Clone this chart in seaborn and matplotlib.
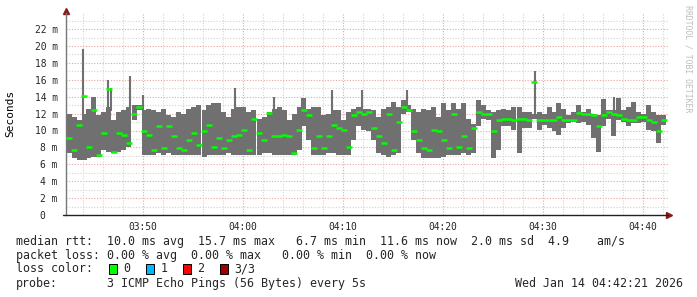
import matplotlib
matplotlib.use("Agg")
import matplotlib.pyplot as plt
from matplotlib.patches import Rectangle
from matplotlib.lines import Line2D
import seaborn as sns
import pandas as pd
import numpy as np

# ---- data (ms), one column per 30 s, starting 03:42:21 ----
start_min = 2.35          # minutes after 03:40:00 (03:42:21)
step_min = 0.5
smoke_max = [12.0, 11.6, 11.2, 12.0, 12.6, 14.0, 11.8, 12.2, 12.8, 11.2,
             12.2, 12.4, 12.8, 13.0, 13.0, 12.4, 12.5, 12.4, 12.2, 12.6,
             11.8, 11.6, 12.2, 12.0, 12.6, 12.8, 13.0, 12.4, 13.0, 13.2,
             13.2, 12.2, 11.6, 12.6, 12.8, 12.8, 12.2, 12.4, 11.4, 11.6,
             12.2, 12.6, 12.8, 12.4, 11.2, 12.0, 12.8, 13.8, 12.6, 12.8,
             12.8, 11.8, 12.0, 12.4, 12.4, 11.2, 12.2, 12.6, 12.8, 12.6,
             12.6, 12.4, 11.6, 12.6, 12.8, 13.4, 12.8, 13.6, 13.0, 12.6,
             12.2, 12.6, 12.4, 12.8, 11.6, 13.2, 12.4, 13.2, 12.6, 13.2,
             11.4, 10.8, 13.6, 13.0, 12.4, 12.2, 12.4, 12.6, 12.4, 12.8,
             12.8, 12.2, 12.2, 12.0, 12.2, 12.0, 12.8, 12.2, 13.2, 12.6,
             11.8, 12.2, 13.0, 12.2, 12.6, 12.0, 11.8, 13.7, 12.4, 12.4,
             13.8, 12.4, 12.8, 13.4, 12.2, 12.0, 13.0, 12.2, 11.8, 11.8]
smoke_min = [7.3, 6.7, 6.5, 6.5, 6.7, 6.9, 6.9, 7.7, 7.5, 7.3,
             7.5, 7.7, 8.1, 11.2, 12.4, 7.1, 7.1, 7.1, 7.3, 7.1,
             7.3, 7.1, 7.1, 7.1, 7.1, 7.1, 7.1, 6.9, 7.1, 7.1,
             7.1, 7.1, 7.3, 7.1, 7.1, 7.1, 7.1, 7.1, 7.1, 7.3,
             7.3, 7.1, 7.1, 7.1, 7.1, 7.1, 7.7, 10.5, 8.9, 7.1,
             7.1, 7.1, 7.3, 7.3, 7.1, 7.1, 7.1, 8.9, 10.5, 10.1,
             9.9, 8.9, 7.3, 7.1, 6.9, 7.1, 7.3, 12.0, 12.2, 8.9,
             7.3, 6.7, 6.7, 6.7, 6.7, 6.9, 7.1, 7.1, 7.1, 7.3,
             7.1, 7.3, 10.5, 11.4, 11.2, 6.7, 7.7, 10.5, 10.5, 10.1,
             7.3, 10.3, 10.3, 11.4, 10.1, 10.7, 10.3, 9.9, 9.5, 10.3,
             10.9, 11.0, 10.9, 11.0, 10.7, 9.1, 7.5, 10.5, 11.4, 9.3,
             11.2, 11.0, 10.5, 10.9, 10.9, 11.0, 10.1, 9.9, 8.5, 10.7]
median_rtt = [9.1, 7.7, 10.6, 14.1, 8.1, 12.4, 7.1, 9.7, 14.9, 7.5,
              9.7, 9.5, 8.5, 12.0, 12.8, 10.0, 9.5, 7.7, 10.5, 7.9,
              10.5, 9.3, 7.9, 7.7, 8.9, 9.7, 8.3, 9.9, 10.6, 8.1,
              9.1, 7.9, 8.9, 9.3, 9.5, 10.1, 7.7, 11.4, 9.7, 8.9,
              12.1, 9.3, 9.3, 9.5, 9.3, 7.3, 10.1, 12.4, 11.8, 7.9,
              9.3, 7.9, 9.3, 10.7, 10.3, 10.1, 8.1, 11.8, 12.2, 12.0,
              12.2, 10.3, 9.3, 8.5, 12.0, 7.7, 11.0, 12.8, 12.4, 9.9,
              8.9, 7.9, 7.7, 10.1, 9.9, 8.9, 7.9, 12.0, 8.1, 9.3,
              7.9, 10.3, 12.2, 12.0, 12.0, 9.9, 11.2, 11.4, 11.4, 11.2,
              11.4, 11.4, 11.2, 15.7, 11.2, 11.3, 11.2, 11.2, 11.6, 11.2,
              11.2, 11.2, 12.1, 12.0, 12.0, 11.8, 10.5, 11.8, 12.2, 12.0,
              11.8, 11.4, 11.2, 11.2, 11.6, 11.6, 11.2, 11.0, 9.9, 11.3]
# single-sample spikes of the ping spread (minutes after 03:40, top in ms)
spike_time = [4.0, 6.5, 6.8, 8.7, 10.0, 19.2, 23.1, 28.9, 31.9, 36.4, 49.2, 57.1]
spike_top = [19.6, 16.0, 15.0, 16.4, 14.2, 15.0, 14.0, 14.8, 14.8, 14.8, 17.0, 14.0]

y_ticks = [0, 2, 4, 6, 8, 10, 12, 14, 16, 18, 20, 22]
y_tick_labels = ["0  ", "2 m", "4 m", "6 m", "8 m", "10 m", "12 m", "14 m",
                 "16 m", "18 m", "20 m", "22 m"]
x_ticks = [10, 20, 30, 40, 50, 60]            # minutes after 03:40
x_tick_labels = ["03:50", "04:00", "04:10", "04:20", "04:30", "04:40"]

legend_lines = [
    "median rtt:  10.0 ms avg  15.7 ms max   6.7 ms min  11.6 ms now  2.0 ms sd  4.9    am/s",
    "packet loss: 0.00 % avg  0.00 % max   0.00 % min  0.00 % now",
]
loss_labels = ["0", "1", "2", "3/3"]
loss_colors = ["#00ff00", "#00b8ff", "#ff0000", "#a00000"]
probe_text = "3 ICMP Echo Pings (56 Bytes) every 5s"
date_text = "Wed Jan 14 04:42:21 2026"

# ---- figure ----
sns.set_style("white")
plt.rcParams['font.family'] = ['DejaVu Sans Mono', 'DejaVu Sans']
W, H = 697, 297
fig = plt.figure(figsize=(W / 100, H / 100), dpi=100)
fig.patch.set_facecolor("white")
px_l, px_r, px_t, px_b = 66, 668, 13, 215
ax = fig.add_axes([px_l / W, (H - px_b) / H, (px_r - px_l) / W, (px_b - px_t) / H])

x_left = 10 - (143 - px_l) / 10.0
x_right = x_left + (px_r - px_l) / 10.0
ax.set_xlim(x_left, x_right)
ax.set_ylim(0, (px_b - px_t) / 8.45)

df = pd.DataFrame({
    "t": [start_min + (i + 0.5) * step_min for i in range(len(median_rtt))],
    "lo": smoke_min, "hi": smoke_max, "med": median_rtt,
})

# grid
for v in np.arange(1, 24, 2):
    ax.axhline(v, color="#d4d4d4", lw=0.8, ls=(0, (1, 1.5)), zorder=0)
for v in y_ticks[1:]:
    ax.axhline(v, color="#e6a3a3", lw=0.8, ls=(0, (1, 1.5)), zorder=0)
for v in np.arange(4, 63, 2):
    if v % 10:
        ax.axvline(v, color="#d4d4d4", lw=0.8, ls=(0, (1, 1.5)), zorder=0)
for v in x_ticks:
    ax.axvline(v, color="#e6a3a3", lw=0.8, ls=(0, (1, 1.5)), zorder=0)

# smoke
ax.bar(df["t"], df["hi"] - df["lo"], bottom=df["lo"], width=step_min,
       color="#707070", linewidth=0, zorder=2)
for t, top in zip(spike_time, spike_top):
    col = int((t - start_min) // step_min)
    ax.vlines(t, smoke_max[col] - 0.5, top, color="#707070", lw=1.5, zorder=2)
# median
sns.scatterplot(data=df, x="t", y="med", marker="_", s=16, linewidth=1.8,
                color="#00ff00", ax=ax, zorder=3, legend=False)

ax.set_xlabel("")
ax.set_ylabel("")
ax.set_xticks(x_ticks)
ax.set_xticklabels(x_tick_labels, fontsize=6.9, family="DejaVu Sans Mono")
ax.set_xticks(np.arange(4, 63, 2), minor=True)
ax.set_yticks(y_ticks)
ax.set_yticklabels(y_tick_labels, fontsize=6.9, family="DejaVu Sans Mono")
ax.tick_params(axis="x", which="major", length=2, pad=3, color="#bbbbbb")
ax.tick_params(axis="x", which="minor", length=2, color="#bbbbbb")
ax.tick_params(axis="y", which="major", length=0, pad=6)
for s in ["top", "right", "bottom"]:
    ax.spines[s].set_visible(False)
ax.spines["left"].set_color("#777777")
ax.spines["left"].set_linewidth(1)

# bottom axis line + arrows
fig.add_artist(Line2D([63 / W, 668 / W], [(H - px_b) / H] * 2, color="#222222", lw=1))
ax.plot([x_right + 0.15], [0], marker=">", color="#8b1a1a", ms=4, clip_on=False)
ax.plot([x_left], [ax.get_ylim()[1] + 0.2], marker="^", color="#8b1a1a", ms=4, clip_on=False)

# axis title and watermark
fig.text(10 / W, 1 - 113 / H, "Seconds", rotation=90, ha="center", va="center",
         fontsize=8, color="#000000")
fig.text(688 / W, 1 - 59 / H, "RRDTOOL / TOBI OETIKER", rotation=270, ha="center",
         va="center", fontsize=5.9, color="#bdbdbd")

# legend text
fs = 8.4
fig.text(16 / W, 1 - 241.3 / H, legend_lines[0], fontsize=fs, va="center", ha="left")
fig.text(16 / W, 1 - 255.3 / H, legend_lines[1], fontsize=fs, va="center", ha="left")
fig.text(16 / W, 1 - 268.8 / H, "loss color:", fontsize=fs, va="center", ha="left")
box_x = [108.5, 145.5, 182.5, 219.5]
for bx, lab, col in zip(box_x, loss_labels, loss_colors):
    fig.add_artist(Rectangle((bx / W, (H - 273.5) / H), 8 / W, 9.5 / H,
                             facecolor=col, edgecolor="black", lw=0.7,
                             transform=fig.transFigure))
    fig.text((bx + 15) / W, 1 - 268.8 / H, lab, fontsize=fs, va="center", ha="left")
fig.text(16 / W, 1 - 283.3 / H, "probe:", fontsize=fs, va="center", ha="left")
fig.text(107 / W, 1 - 283.3 / H, probe_text, fontsize=fs, va="center", ha="left")
fig.text(683 / W, 1 - 283.3 / H, date_text, fontsize=fs, va="center", ha="right")

fig.savefig("out.png", dpi=100, facecolor="white")
